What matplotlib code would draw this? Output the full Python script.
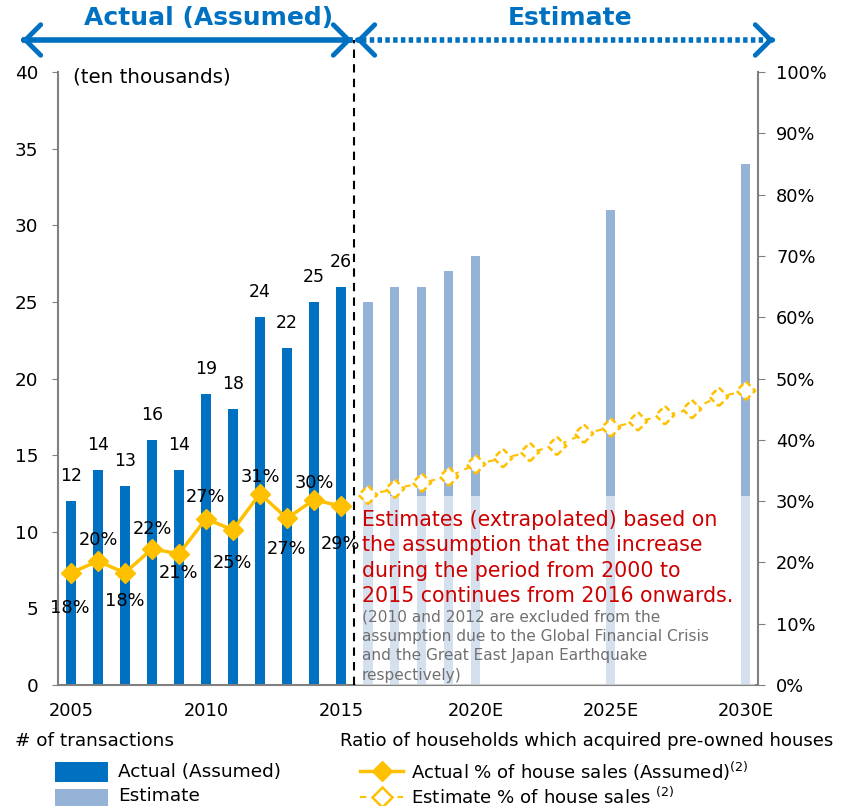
import matplotlib
matplotlib.use('Agg')
import matplotlib.pyplot as plt
from matplotlib.patches import Rectangle
from matplotlib.lines import Line2D

# number of transactions, ten thousands
actual_years = [2005, 2006, 2007, 2008, 2009, 2010, 2011, 2012, 2013, 2014, 2015]
actual_tx = [12, 14, 13, 16, 14, 19, 18, 24, 22, 25, 26]
est_years = [2016, 2017, 2018, 2019, 2020, 2025, 2030]
est_tx = [25, 26, 26, 27, 28, 31, 34]

# ratio of households which acquired pre-owned houses (%)
actual_pct = [18.3, 20.2, 18.3, 22.2, 21.4, 27.1, 25.3, 31.2, 27.2, 30.2, 29.2]
actual_pct_labels = ['18%', '20%', '18%', '22%', '21%', '27%', '25%', '31%', '27%', '30%', '29%']
est_pct_years = [2016, 2017, 2018, 2019, 2020, 2021, 2022, 2023, 2024, 2025, 2026, 2027, 2028, 2029, 2030]
est_pct = [31, 32, 33, 34, 36, 37, 38, 39, 41, 42, 43, 44, 45, 47, 48]

xtick_years = [2005, 2010, 2015, 2020, 2025, 2030]
xtick_labels = ['2005', '2010', '2015', '2020E', '2025E', '2030E']

blue = '#0070C0'
light_blue = '#95B3D7'
yellow = '#FFC000'
gray = '#808080'
red = '#CC0000'

W, H = 851, 806
def fx(x):
    return x / W
def fy(y):
    return 1 - y / H

plt.rcParams['font.family'] = 'DejaVu Sans'
fig = plt.figure(figsize=(W / 100, H / 100), dpi=100)
ax = fig.add_axes([fx(58), fy(685), fx(758) - fx(58), fy(72) - fy(685)])
ax2 = ax.twinx()

# bars
ax.bar(actual_years, actual_tx, width=0.34, color=blue, zorder=2)
ax.bar(est_years, est_tx, width=0.34, color=light_blue, zorder=2)
for x, v in zip(actual_years, actual_tx):
    ax.annotate(str(v), (x, v), xytext=(0, 18), textcoords='offset points',
                ha='center', va='center', fontsize=12.5)

ax.set_xlim(2004.52, 2030.45)
ax.set_ylim(0, 40)
ax.set_yticks(range(0, 41, 5))
ax.set_xticks(xtick_years)
ax.set_xticklabels(xtick_labels)
ax.tick_params(axis='x', length=0, pad=12, labelsize=12.8)
ax.tick_params(axis='y', length=4, color=gray, labelsize=13.2, pad=10)
for s in ['top', 'right']:
    ax.spines[s].set_visible(False)
for s in ['left', 'bottom']:
    ax.spines[s].set_color(gray)
    ax.spines[s].set_linewidth(1.5)
ax.text(0.022, 0.992, '(ten thousands)', transform=ax.transAxes, fontsize=14.3,
        ha='left', va='center')

# white veil over lower part of estimate bars
ax.add_patch(Rectangle((2015.55, 0), 14.8, 12.35, facecolor='white', alpha=0.6,
                       edgecolor='none', zorder=3))

# dashed separator
ax.axvline(2015.5, ymin=0, ymax=(685 - 40) / (685 - 72), color='black', lw=1.5,
           ls=(0, (4, 3)), clip_on=False, zorder=4)

# ratio lines on right axis
ax2.set_ylim(0, 100)
ax2.set_yticks(range(0, 101, 10))
ax2.set_yticklabels([f'{v}%' for v in range(0, 101, 10)])
ax2.tick_params(axis='y', length=5, color=gray, labelsize=12.8, pad=8)
for s in ['top', 'left', 'bottom']:
    ax2.spines[s].set_visible(False)
ax2.spines['right'].set_color(gray)
ax2.spines['right'].set_linewidth(1.5)

ax2.plot(actual_years, actual_pct, color=yellow, lw=2.5, marker='D', ms=10,
         mec=yellow, zorder=5)
ax2.plot(est_pct_years, est_pct, color=yellow, lw=1.5, ls=(0, (3, 3)), zorder=5)
ax2.scatter(est_pct_years, est_pct, marker='D', s=90, facecolors='white',
            edgecolors=yellow, linewidths=1.8, linestyles=(0, (2.5, 1.5)), zorder=6)

# label offsets (points): above / below the markers
pct_offsets = [(-1, -25), (0, 15), (0, -20), (0, 14), (0, -14), (0, 16),
               (0, -24), (0, 12), (0, -22), (0, 12), (0, -27)]
for x, v, lab, off in zip(actual_years, actual_pct, actual_pct_labels, pct_offsets):
    ax2.annotate(lab, (x, v), xytext=off, textcoords='offset points',
                 ha='center', va='center', fontsize=12.8, zorder=7)

# annotation text
ax.text(fx(362), fy(510),
        'Estimates (extrapolated) based on\nthe assumption that the increase\n'
        'during the period from 2000 to\n2015 continues from 2016 onwards.',
        transform=fig.transFigure, color=red, fontsize=14.8, ha='left', va='top',
        linespacing=1.33, zorder=8)
ax.text(fx(362), fy(609),
        '(2010 and 2012 are excluded from the\nassumption due to the Global Financial Crisis\n'
        'and the Great East Japan Earthquake\nrespectively)',
        transform=fig.transFigure, color='#707070', fontsize=11.1, ha='left', va='top',
        linespacing=1.38, zorder=8)

# header arrows
fig.text(fx(209), fy(18), 'Actual (Assumed)', color=blue, fontsize=18, fontweight='bold',
         ha='center', va='center')
fig.text(fx(570), fy(18), 'Estimate', color=blue, fontsize=18, fontweight='bold',
         ha='center', va='center')
fig.add_artist(Line2D([fx(25), fx(350)], [fy(40), fy(40)], color=blue, lw=4))
fig.add_artist(Line2D([fx(362), fx(771)], [fy(40), fy(40)], color=blue, lw=4,
                      ls=(0, (0.8, 0.6))))
def chevron(tip_x, direction):
    ax.annotate('', xy=(fx(tip_x), fy(40)), xytext=(fx(tip_x - direction * 2), fy(40)),
                xycoords='figure fraction', textcoords='figure fraction',
                arrowprops=dict(arrowstyle='->, head_length=0.55, head_width=0.55',
                                mutation_scale=20, color=blue, lw=3.5,
                                shrinkA=0, shrinkB=0))
chevron(22, -1)
chevron(352, 1)
chevron(356, -1)
chevron(774, 1)

# legend, built by hand
fig.text(fx(15), fy(741), '# of transactions', fontsize=13.3, va='center')
fig.add_artist(Rectangle((fx(55), fy(782)), fx(108) - fx(55), fy(762) - fy(782),
                         facecolor=blue, transform=fig.transFigure))
fig.text(fx(118), fy(772), 'Actual (Assumed)', fontsize=13.3, va='center')
fig.add_artist(Rectangle((fx(55), fy(810)), fx(108) - fx(55), fy(789) - fy(810),
                         facecolor=light_blue, transform=fig.transFigure))
fig.text(fx(118), fy(796), 'Estimate', fontsize=13.3, va='center')

fig.text(fx(340), fy(741), 'Ratio of households which acquired pre-owned houses',
         fontsize=13.1, va='center')
fig.add_artist(Line2D([fx(360), fx(403)], [fy(771), fy(771)], color=yellow, lw=2.5))
fig.add_artist(Line2D([fx(382)], [fy(771)], color=yellow, marker='D', ms=10))
fig.text(fx(411), fy(771), 'Actual % of house sales (Assumed)$^{(2)}$', fontsize=13.1,
         va='center')
fig.add_artist(Line2D([fx(360), fx(403)], [fy(797), fy(797)], color=yellow, lw=1.5,
                      ls=(0, (3, 3))))
fig.add_artist(Line2D([fx(382)], [fy(797)], color=yellow, marker='D', ms=10,
                      mfc='white', mew=1.8))
fig.text(fx(411), fy(797), 'Estimate % of house sales $^{(2)}$', fontsize=13.1,
         va='center')

fig.savefig('out.png', dpi=100)
